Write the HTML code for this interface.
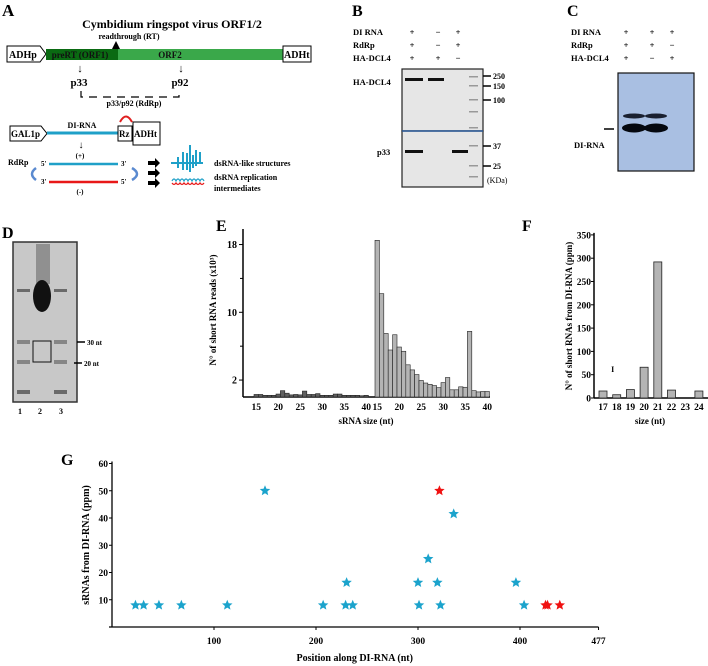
<!DOCTYPE html>
<html><head><meta charset="utf-8"><style>
html,body{margin:0;padding:0;background:#fff;}
svg{display:block;font-family:"Liberation Serif",serif;font-weight:bold;}
</style></head><body>
<svg id="fig" width="708" height="666" viewBox="0 0 708 666" xmlns="http://www.w3.org/2000/svg">
<!-- Panel A -->
<g>
<text x="2" y="16" font-size="17">A</text>
<text x="172" y="28" font-size="12" text-anchor="middle">Cymbidium ringspot virus ORF1/2</text>
<text x="129" y="39" font-size="8" text-anchor="middle">readthrough (RT)</text>
<polygon points="7,46 40,46 46,54 40,62 7,62" fill="#fff" stroke="#000"/>
<text x="9" y="58" font-size="10">ADHp</text>
<rect x="46" y="49" width="72" height="11" fill="#0a6a12"/>
<rect x="118" y="49" width="165" height="11" fill="#3aa84a"/>
<text x="80" y="58" font-size="9" text-anchor="middle" fill="#111">preRT (ORF1)</text>
<text x="170" y="58" font-size="9" text-anchor="middle" fill="#111">ORF2</text>
<polygon points="112,49 116,41 120,49" fill="#000"/>
<rect x="283" y="46" width="28" height="16" fill="#fff" stroke="#000"/>
<text x="284" y="58" font-size="10">ADHt</text>
<text x="80" y="72" font-size="11" text-anchor="middle" font-weight="normal">↓</text>
<text x="181" y="72" font-size="11" text-anchor="middle" font-weight="normal">↓</text>
<text x="79" y="86" font-size="11" text-anchor="middle">p33</text>
<text x="180" y="86" font-size="11" text-anchor="middle">p92</text>
<path d="M81,91 V97 H179 V91" fill="none" stroke="#000" stroke-width="1.2" stroke-dasharray="8,6"/>
<text x="134" y="106" font-size="8" text-anchor="middle">p33/p92 (RdRp)</text>
<polygon points="10,126 41,126 47,133.5 41,141 10,141" fill="#fff" stroke="#000"/>
<text x="11" y="137" font-size="9">GAL1p</text>
<line x1="47" y1="133" x2="118" y2="133" stroke="#1fa0c8" stroke-width="3"/>
<text x="82" y="128" font-size="8" text-anchor="middle">DI-RNA</text>
<rect x="118" y="126" width="14" height="15" fill="#fff" stroke="#000"/>
<text x="119" y="137" font-size="9">Rz</text>
<rect x="133" y="122" width="27" height="23" fill="#fff" stroke="#000"/>
<text x="134" y="137" font-size="9">ADHt</text>
<path d="M120,122 Q126,111 132,122" fill="none" stroke="#e02020" stroke-width="2"/>
<text x="81" y="148" font-size="10" text-anchor="middle" font-weight="normal">↓</text>
<text x="80" y="158" font-size="7" text-anchor="middle">(+)</text>
<text x="8" y="165" font-size="8">RdRp</text>
<text x="41" y="166" font-size="7">5'</text>
<line x1="49" y1="164" x2="118" y2="164" stroke="#1fa0c8" stroke-width="2.5"/>
<text x="121" y="166" font-size="7">3'</text>
<text x="41" y="184" font-size="7">3'</text>
<line x1="49" y1="182" x2="118" y2="182" stroke="#e81818" stroke-width="2.5"/>
<text x="121" y="184" font-size="7">5'</text>
<text x="80" y="194" font-size="7" text-anchor="middle">(-)</text>
<path d="M36,168 Q28,174 36,180" fill="none" stroke="#5a8ad0" stroke-width="2.5"/>
<path d="M132,168 Q142,174 132,180" fill="none" stroke="#5a8ad0" stroke-width="2.5"/>
<polygon points="148,161 155,161 155,158 160,163 155,168 155,165 148,165" fill="#000"/>
<polygon points="148,171 155,171 155,168 160,173 155,178 155,175 148,175" fill="#000"/>
<polygon points="148,181 155,181 155,178 160,183 155,188 155,185 148,185" fill="#000"/>
<g stroke="#1fa0c8" stroke-width="2">
<line x1="171" y1="163" x2="203" y2="163"/><line x1="190" y1="145" x2="190" y2="172"/>
<line x1="183" y1="152" x2="183" y2="170"/><line x1="196" y1="150" x2="196" y2="166"/>
<line x1="200" y1="152" x2="200" y2="162"/><line x1="178" y1="157" x2="178" y2="168"/>
<line x1="187" y1="153" x2="187" y2="170"/><line x1="193" y1="155" x2="193" y2="168"/>
</g>
<path d="M172,181 q2,-4 4,0 q2,-4 4,0 q2,-4 4,0 q2,-4 4,0 q2,-4 4,0 q2,-4 4,0 q2,-4 4,0 q2,-4 4,0" fill="none" stroke="#1fa0c8" stroke-width="1.2"/>
<path d="M172,183 q2,3 4,0 q2,3 4,0 q2,3 4,0 q2,3 4,0 q2,3 4,0 q2,3 4,0 q2,3 4,0 q2,3 4,0" fill="none" stroke="#e81818" stroke-width="1.2"/>
<text x="214" y="166" font-size="8">dsRNA-like structures</text>
<text x="214" y="180" font-size="8">dsRNA replication</text>
<text x="214" y="191" font-size="8">intermediates</text>
</g>
<!-- Panel B -->
<g>
<text x="352" y="16" font-size="16">B</text>
<g font-size="8.5">
<text x="353" y="35">DI RNA</text>
<text x="353" y="48">RdRp</text>
<text x="353" y="61">HA-DCL4</text>
<g text-anchor="middle">
<text x="412" y="35">+</text><text x="438" y="35">−</text><text x="458" y="35">+</text>
<text x="412" y="48">+</text><text x="438" y="48">−</text><text x="458" y="48">+</text>
<text x="412" y="61">+</text><text x="438" y="61">+</text><text x="458" y="61">−</text>
</g></g>
<rect x="402" y="69" width="81" height="62" fill="#e6e6e6" stroke="#222" stroke-width="1.2"/>
<rect x="402" y="131" width="81" height="56" fill="#e6e6e6" stroke="#222" stroke-width="1.2"/>
<line x1="402" y1="131" x2="483" y2="131" stroke="#2a5a9a" stroke-width="1.5"/>
<rect x="405" y="78" width="18" height="3" fill="#111"/>
<rect x="428" y="78" width="16" height="3" fill="#111"/>
<rect x="405" y="150" width="18" height="3" fill="#111"/>
<rect x="452" y="150" width="16" height="3" fill="#111"/>
<g fill="#999">
<rect x="469" y="76" width="9" height="1.5"/><rect x="469" y="85" width="9" height="1.5"/><rect x="469" y="99" width="9" height="1.5"/><rect x="469" y="111" width="9" height="1.5"/><rect x="469" y="127" width="9" height="1.5"/><rect x="469" y="145" width="9" height="1.5"/><rect x="469" y="165" width="9" height="1.5"/><rect x="469" y="176" width="9" height="1.5"/>
</g>
<g stroke="#000" stroke-width="1.5">
<line x1="483" y1="76" x2="491" y2="76"/><line x1="483" y1="86" x2="491" y2="86"/><line x1="483" y1="100" x2="491" y2="100"/><line x1="483" y1="146" x2="491" y2="146"/><line x1="483" y1="166" x2="491" y2="166"/>
</g>
<g font-size="8">
<text x="493" y="79">250</text><text x="493" y="89">150</text><text x="493" y="103">100</text><text x="493" y="149">37</text><text x="493" y="169">25</text><text x="487" y="183" font-weight="normal">(KDa)</text>
</g>
<text x="353" y="85" font-size="8.5">HA-DCL4</text>
<text x="377" y="155" font-size="8.5">p33</text>
</g>
<!-- Panel C -->
<g>
<text x="567" y="16" font-size="16">C</text>
<g font-size="8.5">
<text x="571" y="35">DI RNA</text>
<text x="571" y="48">RdRp</text>
<text x="571" y="61">HA-DCL4</text>
<g text-anchor="middle">
<text x="626" y="35">+</text><text x="652" y="35">+</text><text x="672" y="35">+</text>
<text x="626" y="48">+</text><text x="652" y="48">+</text><text x="672" y="48">−</text>
<text x="626" y="61">+</text><text x="652" y="61">−</text><text x="672" y="61">+</text>
</g></g>
<rect x="618" y="73" width="76" height="98" fill="#a9bfe2" stroke="#111" stroke-width="1.2"/>
<ellipse cx="634" cy="116" rx="11" ry="2.5" fill="#1a2030"/>
<ellipse cx="656" cy="116" rx="11" ry="2.5" fill="#1a2030"/>
<ellipse cx="634" cy="128" rx="12" ry="4.5" fill="#05080f"/>
<ellipse cx="656" cy="128" rx="12" ry="4.5" fill="#05080f"/>
<line x1="604" y1="129" x2="614" y2="129" stroke="#000" stroke-width="1.5"/>
<text x="574" y="148" font-size="8.5">DI-RNA</text>
</g>
<!-- Panel D -->
<g>
<text x="2" y="238" font-size="16">D</text>
<rect x="13" y="242" width="64" height="160" fill="#c8c8c8" stroke="#333" stroke-width="1.5"/>
<g fill="#6a6a6a">
<rect x="17" y="289" width="13" height="3"/><rect x="54" y="289" width="13" height="3"/>
<rect x="17" y="340" width="13" height="4" opacity="0.7"/><rect x="54" y="340" width="13" height="4" opacity="0.7"/>
<rect x="17" y="360" width="13" height="4" opacity="0.7"/><rect x="54" y="360" width="13" height="4" opacity="0.7"/>
<rect x="17" y="390" width="13" height="4"/><rect x="54" y="390" width="13" height="4"/>
<rect x="36" y="244" width="14" height="40" opacity="0.6"/>
</g>
<ellipse cx="42" cy="296" rx="9" ry="16" fill="#111"/>
<rect x="33" y="341" width="18" height="21" fill="none" stroke="#111"/>
<line x1="77" y1="342" x2="85" y2="342" stroke="#000" stroke-width="1.5"/>
<line x1="74" y1="363" x2="82" y2="363" stroke="#000" stroke-width="1.5"/>
<text x="87" y="345" font-size="7">30 nt</text>
<text x="84" y="366" font-size="7">20 nt</text>
<text x="18" y="414" font-size="8">1</text>
<text x="38" y="414" font-size="8">2</text>
<text x="59" y="414" font-size="8">3</text>
</g>
<text x="216" y="231" font-size="16">E</text>
<text x="522" y="231" font-size="16">F</text>
<text x="61" y="465" font-size="16">G</text>
<g id="gE"></g>
<g id="gF"></g>
<g id="gG"></g>
</svg>
<script>
// Panel E data
const eSizes = [15,16,17,18,19,20,21,22,23,24,25,26,27,28,29,30,31,32,33,34,35,36,37,38,39,40];
const eControl = [0.3,0.3,0.2,0.2,0.2,0.35,0.75,0.45,0.25,0.3,0.25,0.7,0.3,0.3,0.4,0.2,0.2,0.2,0.35,0.35,0.2,0.2,0.2,0.2,0.15,0.2];
const eSample = [18.5,12.2,7.5,5.55,7.35,5.9,5.4,3.8,3.2,2.65,1.95,1.65,1.5,1.35,1.1,1.7,2.3,0.85,0.85,1.2,1.15,7.75,0.75,0.6,0.65,0.65];
const eTicks = [2,10,18];
const eXTicks = [15,20,25,30,35,40];
// Panel F data
const fSizes = [17,18,19,20,21,22,23,24];
const fValues = [15,7,18,66,292,17,0,15];
const fTicks = [0,50,100,150,200,250,300,350];
// Panel G data
const gPosBlue = [23,31,46,68,113,150,207,229,230,236,300,301,310,319,322,335,396,404];
const gValBlue = [8,8,8,8,8,50,8,8,16.3,8,16.3,8,25,16.3,8,41.5,16.3,8];
const gPosRed = [321,425,427,439];
const gValRed = [50,8,8,8];
const gYTicks = [10,20,30,40,50,60];
const gXTicks = [100,200,300,400,477];

const NS = 'http://www.w3.org/2000/svg';
function mk(parent, tag, attrs, text){
  const el = document.createElementNS(NS, tag);
  for (const k in attrs) el.setAttribute(k, attrs[k]);
  if (text !== undefined) el.textContent = text;
  parent.appendChild(el);
  return el;
}
const FONT = '"Liberation Serif", serif';

// ---------- E ----------
(function(){
  const g = document.getElementById('gE');
  const x0 = 243, yBase = 397, yTop = 229, unit = 8.47;
  const y = v => yBase - v*unit;
  const g1 = 254, g2 = 375, bw = 4.4;
  const bx = (grp, i) => (grp===0?g1:g2) + i*bw;
  let ax = mk(g, 'line', {x1:x0,y1:yTop,x2:x0,y2:yBase,stroke:'#000','stroke-width':1.5});
   
  ax = mk(g, 'line', {x1:x0,y1:yBase,x2:490,y2:yBase,stroke:'#000','stroke-width':1.5});
   
  [6,14].forEach(v=>{ mk(g,'line',{x1:x0-3,y1:y(v),x2:x0,y2:y(v),stroke:'#000'}); });
  eTicks.forEach(v=>{
    mk(g,'line',{x1:x0-4,y1:y(v),x2:x0,y2:y(v),stroke:'#000'});
    const t = mk(g,'text',{x:x0-6,y:y(v)+3.5,'font-size':10,'text-anchor':'end','font-family':FONT,'font-weight':'bold'}, String(v));
     
  });
  eSizes.forEach((s,i)=>{
    const r1 = mk(g,'rect',{x:bx(0,i),y:y(eControl[i]),width:bw,height:eControl[i]*unit,fill:'#606060',stroke:'#222','stroke-width':0.6});
     
    const r2 = mk(g,'rect',{x:bx(1,i),y:y(eSample[i]),width:bw,height:eSample[i]*unit,fill:'#b4b4b4',stroke:'#222','stroke-width':0.6});
     
  });
  [0,1].forEach(grp=>{
    eXTicks.forEach(s=>{
      const i = eSizes.indexOf(s);
      const t = mk(g,'text',{x:bx(grp,i)+bw/2,y:410,'font-size':9.5,'text-anchor':'middle','font-family':FONT,'font-weight':'bold'}, String(s));
       
    });
  });
  let t = mk(g,'text',{x:366,y:424,'font-size':9,'text-anchor':'middle','font-family':FONT,'font-weight':'bold'},'sRNA size (nt)');
   
  t = mk(g,'text',{x:0,y:0,'font-size':9,'text-anchor':'middle','font-family':FONT,'font-weight':'bold',transform:'translate(216,310) rotate(-90)'},'N° of short RNA reads (x10³)');
   
})();

// ---------- F ----------
(function(){
  const g = document.getElementById('gF');
  const x0 = 594, yBase = 398, unit = 23.3/50;
  const y = v => yBase - v*unit;
  const cx = s => 603 + (s-17)*13.7;
  let ax = mk(g,'line',{x1:x0,y1:y(350)-2,x2:x0,y2:yBase,stroke:'#000','stroke-width':1.5});
   
  ax = mk(g,'line',{x1:x0,y1:yBase,x2:708,y2:yBase,stroke:'#000','stroke-width':1.5});
   
  fTicks.forEach(v=>{
    mk(g,'line',{x1:x0-3,y1:y(v),x2:x0,y2:y(v),stroke:'#000'});
    const t = mk(g,'text',{x:x0-3,y:y(v)+3.5,'font-size':9.5,'text-anchor':'end','font-family':FONT,'font-weight':'bold'},String(v));
     
  });
  fSizes.forEach((s,i)=>{
    const r = mk(g,'rect',{x:cx(s)-4,y:y(fValues[i]),width:8,height:fValues[i]*unit,fill:'#b4b4b4',stroke:'#222','stroke-width':0.8});
     
    const t = mk(g,'text',{x:cx(s),y:410,'font-size':9.5,'text-anchor':'middle','font-family':FONT,'font-weight':'bold'},String(s));
     
  });
  let e = mk(g,'text',{x:cx(18)-4,y:y(62)+3,'font-size':8,'text-anchor':'middle','font-family':FONT},'I');
   
  let t = mk(g,'text',{x:650,y:424,'font-size':9,'text-anchor':'middle','font-family':FONT,'font-weight':'bold'},'size (nt)');
   
  t = mk(g,'text',{x:0,y:0,'font-size':9,'text-anchor':'middle','font-family':FONT,'font-weight':'bold',transform:'translate(572,316) rotate(-90)'},'N° of short RNAs from DI-RNA (ppm)');
   
})();

// ---------- G ----------
(function(){
  const g = document.getElementById('gG');
  const x0 = 112, yBase = 627, xu = 1.02, yu = 2.725;
  const X = v => x0 + v*xu;
  const Y = v => yBase - v*yu;
  let ax = mk(g,'line',{x1:x0,y1:Y(60)-2,x2:x0,y2:yBase,stroke:'#000','stroke-width':1.3});
   
  ax = mk(g,'line',{x1:x0-3,y1:yBase,x2:X(477),y2:yBase,stroke:'#000','stroke-width':1.3});
   
  gYTicks.forEach(v=>{
    mk(g,'line',{x1:x0-3,y1:Y(v),x2:x0,y2:Y(v),stroke:'#000'});
    const t = mk(g,'text',{x:x0-4,y:Y(v)+3.5,'font-size':9.5,'text-anchor':'end','font-family':FONT,'font-weight':'bold'},String(v));
     
  });
  gXTicks.forEach(v=>{
    mk(g,'line',{x1:X(v),y1:yBase,x2:X(v),y2:yBase+3,stroke:'#000'});
    const t = mk(g,'text',{x:X(v),y:yBase+17,'font-size':9.5,'text-anchor':'middle','font-family':FONT,'font-weight':'bold'},String(v));
     
  });
  function star(cx,cy,r,color){
    let pts=[];
    for(let k=0;k<10;k++){
      const a = -Math.PI/2 + k*Math.PI/5;
      const rr = k%2===0 ? r : r*0.45;
      pts.push((cx+rr*Math.cos(a)).toFixed(2)+','+(cy+rr*Math.sin(a)).toFixed(2));
    }
    return mk(g,'polygon',{points:pts.join(' '),fill:color});
  }
  gPosBlue.forEach((p,i)=>{
    const s = star(X(p),Y(gValBlue[i]),5.5,'#1ba3cc');
     
  });
  gPosRed.forEach((p,i)=>{
    const s = star(X(p),Y(gValRed[i]),5.5,'#f01010');
     
  });
  let t = mk(g,'text',{x:X(238),y:661,'font-size':10,'text-anchor':'middle','font-family':FONT,'font-weight':'bold'},'Position along DI-RNA (nt)');
   
  t = mk(g,'text',{x:0,y:0,'font-size':10,'text-anchor':'middle','font-family':FONT,'font-weight':'bold',transform:'translate(89,545) rotate(-90)'},'sRNAs from DI-RNA (ppm)');
   
})();
</script>
</body></html>
